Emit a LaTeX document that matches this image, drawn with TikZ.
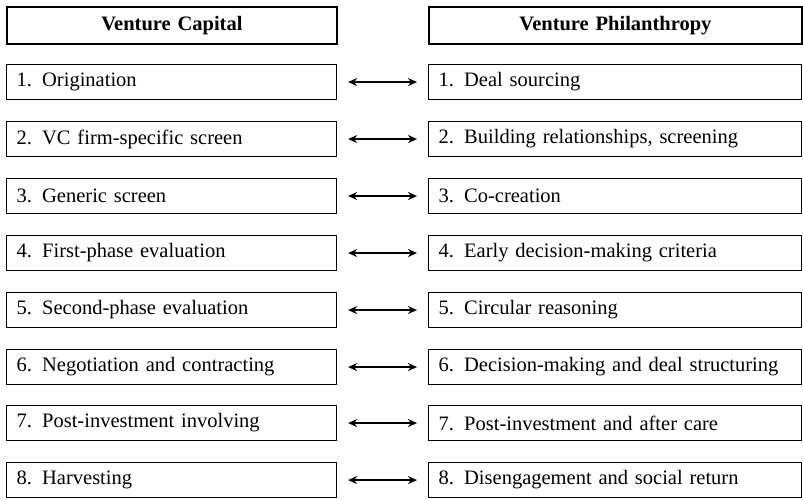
\documentclass[tikz,border=0pt]{standalone}
\usepackage{fontspec}
\setmainfont{Liberation Serif}
\usetikzlibrary{arrows.meta}

\tikzset{
  headbox/.style={draw, line width=1.8pt, minimum height=37pt, text width=#1, align=center,
    inner xsep=0pt, anchor=north west, font=\fontsize{20.5}{24}\selectfont\bfseries},
  stagebox/.style={draw, line width=1.1pt, minimum height=35pt, text width=#1, align=left,
    inner xsep=10pt, anchor=north west, font=\fontsize{20.5}{24}\selectfont},
  pairarrow/.style={line width=1.3pt, {Stealth[length=9pt,width=8pt]}-{Stealth[length=9pt,width=8pt]}}
}

\begin{document}
\begin{tikzpicture}[x=1pt, y=-1pt]
\useasboundingbox (0,0) rectangle (803,499);
%
\node[headbox=330pt] (vc) at (6,6) {Venture Capital};
\node[headbox=373pt] (vp) at (428,6) {Venture Philanthropy};
%
\node[stagebox=310pt] (vc1) at (6,64) {1.\enspace Origination};
\node[stagebox=310pt] (vc2) at (6,121) {2.\enspace VC firm-specific screen};
\node[stagebox=310pt] (vc3) at (6,178) {3.\enspace Generic screen};
\node[stagebox=310pt] (vc4) at (6,235) {4.\enspace First-phase evaluation};
\node[stagebox=310pt] (vc5) at (6,292) {5.\enspace Second-phase evaluation};
\node[stagebox=310pt] (vc6) at (6,349) {6.\enspace Negotiation and contracting};
\node[stagebox=310pt] (vc7) at (6,405) {7.\enspace Post-investment involving};
\node[stagebox=310pt] (vc8) at (6,462) {8.\enspace Harvesting};
%
\node[stagebox=353pt] (vp1) at (428,64) {1.\enspace Deal sourcing};
\node[stagebox=353pt] (vp2) at (428,121) {2.\enspace Building relationships, screening};
\node[stagebox=353pt] (vp3) at (428,178) {3.\enspace Co-creation};
\node[stagebox=353pt] (vp4) at (428,235) {4.\enspace Early decision-making criteria};
\node[stagebox=353pt] (vp5) at (428,292) {5.\enspace Circular reasoning};
\node[stagebox=353pt] (vp6) at (428,349) {6.\enspace Decision-making and deal structuring};
\node[stagebox=353pt] (vp7) at (428,405) {7.\enspace Post-investment and after care};
\node[stagebox=353pt] (vp8) at (428,462) {8.\enspace Disengagement and social return};
%
\draw[pairarrow] ([xshift=11pt]vc1.east) -- ([xshift=-11pt]vp1.west);
\draw[pairarrow] ([xshift=11pt]vc2.east) -- ([xshift=-11pt]vp2.west);
\draw[pairarrow] ([xshift=11pt]vc3.east) -- ([xshift=-11pt]vp3.west);
\draw[pairarrow] ([xshift=11pt]vc4.east) -- ([xshift=-11pt]vp4.west);
\draw[pairarrow] ([xshift=11pt]vc5.east) -- ([xshift=-11pt]vp5.west);
\draw[pairarrow] ([xshift=11pt]vc6.east) -- ([xshift=-11pt]vp6.west);
\draw[pairarrow] ([xshift=11pt]vc7.east) -- ([xshift=-11pt]vp7.west);
\draw[pairarrow] ([xshift=11pt]vc8.east) -- ([xshift=-11pt]vp8.west);
\end{tikzpicture}
\end{document}
